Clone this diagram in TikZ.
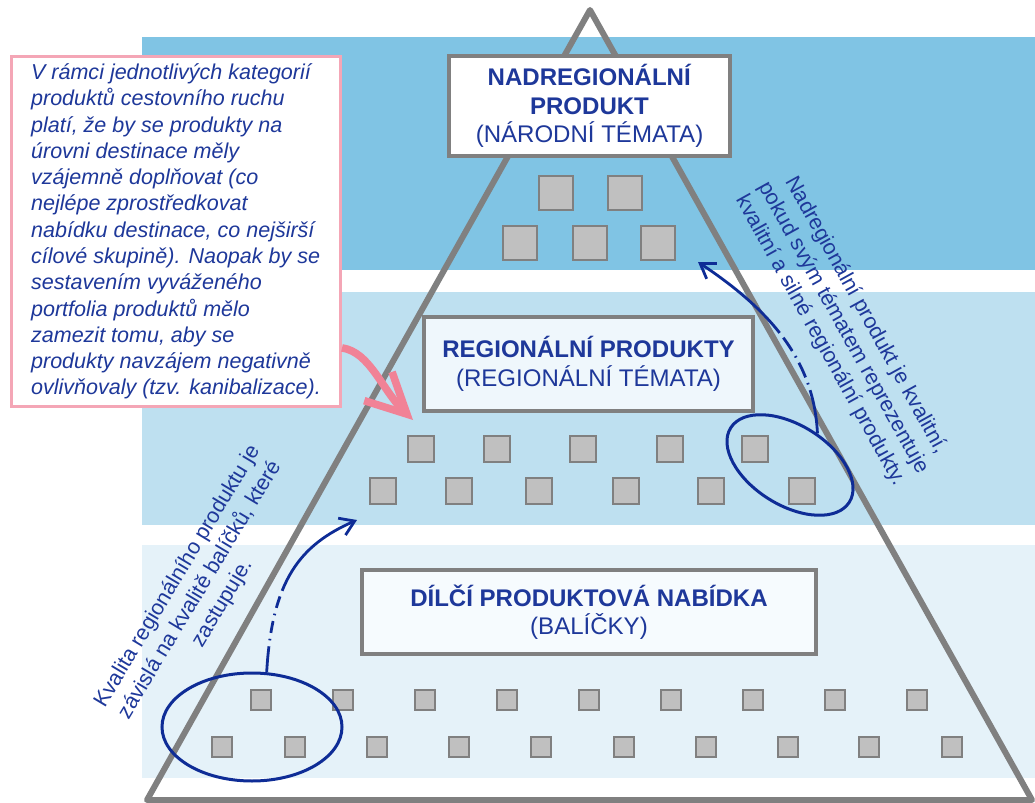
\documentclass[tikz,border=0pt]{standalone}
\usepackage{fontspec}
\setmainfont{Liberation Sans}
\usetikzlibrary{arrows.meta,shapes.geometric}
\definecolor{bandtop}{RGB}{128,196,228}
\definecolor{bandmid}{RGB}{190,224,240}
\definecolor{bandlow}{RGB}{229,242,249}
\definecolor{pyrgray}{RGB}{128,128,128}
\definecolor{sqfill}{RGB}{192,192,192}
\definecolor{inkblue}{RGB}{14,44,150}
\definecolor{txtblue}{RGB}{30,56,154}
\definecolor{notepink}{RGB}{244,166,182}
\definecolor{arrowpink}{RGB}{241,130,150}
\begin{document}
\begin{tikzpicture}[x=0.25mm,y=-0.25mm,
  sq/.style={draw=pyrgray,fill=sqfill,line width=0.5mm,inner sep=0pt,minimum size=#1},
  levelbox/.style={draw=pyrgray,line width=1mm,align=center,text=txtblue,font=\fontsize{17.1}{20.3}\selectfont},
  turned/.style={text=txtblue,align=center,font=\fontsize{15.3}{18.6}\selectfont},
  loop/.style={draw=inkblue,line width=0.75mm,ellipse,inner sep=0pt},
  hand/.style={draw=inkblue,line width=0.7mm,-{Straight Barb[length=3.5mm,width=4.6mm]}}]
\useasboundingbox (0,0) rectangle (1035,803);
\fill[bandtop] (142,37) rectangle (1035,270);
\fill[bandmid] (142,292) rectangle (1035,525);
\fill[bandlow] (142,545) rectangle (1035,778);
\draw[pyrgray,line width=1.5mm,line join=round] (590,10) -- (1032,800) -- (147,800) -- cycle;
\foreach \x/\y [count=\i] in {556/193,625/193,520/243,590/243,658/243}
	\node[sq=8.3mm] (top\i) at (\x,\y) {};
\foreach \x/\y [count=\i] in {421/449,497/449,583/449,670/449,755/449,383/491,459/491,539/491,626/491,711/491,802/491}
	\node[sq=6.6mm] (mid\i) at (\x,\y) {};
\foreach \i in {0,...,8}
	\node[sq=5.1mm] (low\i) at ({261+82*\i},700) {};
\foreach \x [count=\i] in {222,295,377,459,541,624,706,788,869,952}
	\node[sq=5.1mm] (base\i) at (\x,747) {};
\node[levelbox,fill=white,minimum width=70.25mm,minimum height=25mm] (nadbox) at (589.5,106)
	{\textbf{NADREGIONÁLNÍ}\\\textbf{PRODUKT}\\(NÁRODNÍ TÉMATA)};
\node[levelbox,fill={rgb,255:red,239;green,247;blue,252},minimum width=82.25mm,minimum height=23.5mm] (regbox) at (588.5,364)
	{\textbf{REGIONÁLNÍ PRODUKTY}\\(REGIONÁLNÍ TÉMATA)};
\node[levelbox,fill={rgb,255:red,246;green,251;blue,254},minimum width=113.5mm,minimum height=21mm] (balbox) at (589,612)
	{\textbf{DÍLČÍ PRODUKTOVÁ NABÍDKA}\\(BALÍČKY)};
\node[draw=notepink,line width=0.7mm,fill=white,minimum width=82.3mm,minimum height=87.5mm,align=left,text=txtblue,
	font=\itshape\fontsize{15.3}{18.7}\selectfont] (note) at (176,231.5)
	{V rámci jednotlivých kategorií\\produktů cestovního ruchu\\platí, že by se produkty na\\úrovni destinace měly\\vzájemně doplňovat (co\\nejlépe zprostředkovat\\nabídku destinace, co nejširší\\cílové skupině). Naopak by se\\sestavením vyváženého\\portfolia produktů mělo\\zamezit tomu, aby se\\produkty navzájem negativně\\ovlivňovaly (tzv. kanibalizace).};
\node[turned,rotate=-61] (nadnote) at (843,328)
	{Nadregionální produkt je kvalitní,\\pokud svým tématem reprezentuje\\kvalitní a silné regionální produkty.};
\node[turned,rotate=59] (balnote) at (200,590)
	{Kvalita regionálního produktu je\\závislá na kvalitě balíčků, které\\zastupuje.};
\node[loop,minimum width=45mm,minimum height=27mm] (balloop) at (252,727) {};
\node[loop,minimum width=35mm,minimum height=20mm,rotate=-32] (regloop) at (790,465) {};
\coordinate (regmark) at (357,520);
\coordinate (nadmark) at (698,262);
\coordinate (pinktip) at (413,420);
\draw[hand,dash pattern=on 6.5mm off 1.5mm on 0.4mm off 1.5mm on 3mm off 1.5mm on 0.4mm off 1.5mm on 3mm off 1.5mm on 80mm off 1mm]
	(balloop.75) .. controls (272,580) and (300,545) .. (regmark);
\draw[hand,dash pattern=on 11mm off 1.5mm on 0.4mm off 1.5mm on 4mm off 1.5mm on 0.4mm off 1.5mm on 4mm off 1.5mm on 80mm off 1mm]
	(regloop.81) .. controls (814,360) and (770,310) .. (nadmark);
\draw[arrowpink,line width=1.9mm,-{Straight Barb[length=10mm,width=10mm]}]
	([yshift=15mm]note.south east) .. controls (370,352) and (382,390) .. (pinktip);
\end{tikzpicture}
\end{document}
